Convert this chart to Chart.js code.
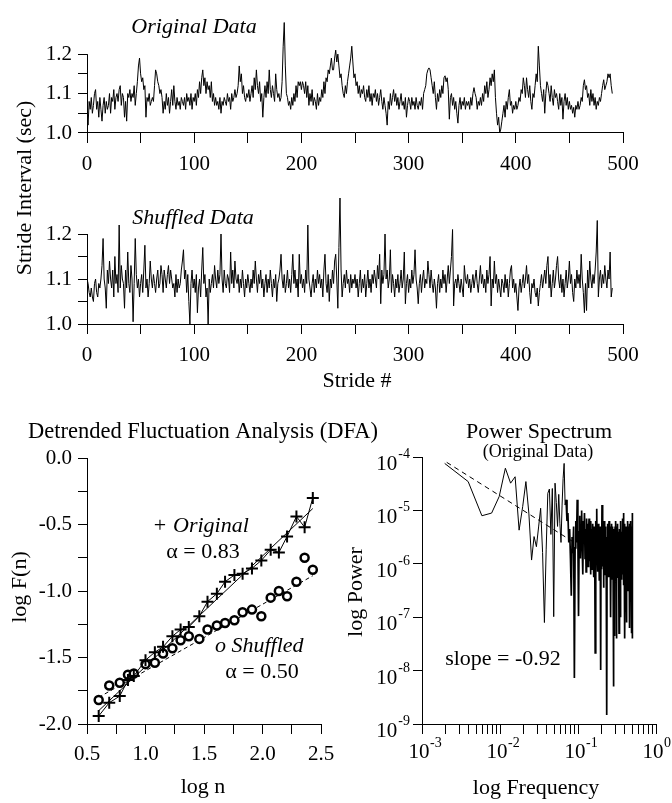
<!DOCTYPE html>
<html>
<head>
<meta charset="utf-8">
<title>Stride interval, DFA and power spectrum</title>
<script src="https://cdn.jsdelivr.net/npm/chart.js@4.4.1/dist/chart.umd.min.js"></script>
<style>
  html, body { margin: 0; padding: 0; background: #fff; }
  #wrap { position: relative; width: 672px; height: 803px; }
  #wrap canvas { position: absolute; left: 0; top: 0; }
</style>
</head>
<body>
<div id="wrap">
  <canvas id="original" width="672" height="803"></canvas>
  <canvas id="shuffled" width="672" height="803"></canvas>
  <canvas id="dfa" width="672" height="803"></canvas>
  <canvas id="spectrum" width="672" height="803"></canvas>
</div>
<script>
// stride intervals (sec), stride # = index
const originalData = [
  1.05,1.02,1.08,1.06,1.09,1.05,1.07,1.10,1.11,1.06,
  1.08,1.04,1.09,1.06,1.03,1.07,1.09,1.05,1.08,1.06,
  1.07,1.10,1.05,1.09,1.08,1.11,1.06,1.09,1.10,1.08,
  1.11,1.12,1.07,1.10,1.09,1.04,1.08,1.03,1.10,1.09,
  1.11,1.08,1.10,1.09,1.12,1.07,1.10,1.13,1.17,1.19,
  1.15,1.13,1.14,1.11,1.12,1.04,1.09,1.08,1.10,1.07,
  1.08,1.09,1.08,1.12,1.16,1.15,1.13,1.12,1.10,1.11,
  1.09,1.05,1.08,1.06,1.10,1.07,1.09,1.05,1.08,1.11,
  1.07,1.12,1.08,1.06,1.09,1.07,1.08,1.06,1.09,1.08,
  1.07,1.09,1.06,1.10,1.08,1.09,1.07,1.10,1.06,1.09,
  1.08,1.10,1.07,1.11,1.09,1.13,1.10,1.14,1.16,1.12,
  1.14,1.10,1.13,1.11,1.12,1.09,1.13,1.08,1.10,1.07,
  1.09,1.07,1.08,1.06,1.09,1.05,1.08,1.07,1.09,1.08,
  1.07,1.10,1.08,1.09,1.06,1.10,1.08,1.09,1.11,1.09,
  1.10,1.12,1.17,1.13,1.15,1.10,1.12,1.09,1.08,1.10,
  1.09,1.11,1.08,1.10,1.12,1.09,1.14,1.11,1.16,1.12,
  1.10,1.13,1.08,1.10,1.04,1.09,1.12,1.09,1.13,1.10,
  1.16,1.11,1.09,1.12,1.10,1.08,1.15,1.11,1.09,1.10,
  1.08,1.09,1.13,1.22,1.28,1.17,1.10,1.09,1.07,1.08,
  1.06,1.09,1.07,1.10,1.08,1.12,1.09,1.13,1.12,1.13,
  1.11,1.13,1.12,1.10,1.13,1.09,1.12,1.07,1.10,1.08,
  1.11,1.07,1.09,1.08,1.06,1.10,1.07,1.09,1.08,1.11,
  1.09,1.13,1.10,1.14,1.13,1.16,1.15,1.17,1.19,1.16,
  1.16,1.19,1.21,1.18,1.20,1.17,1.14,1.15,1.12,1.10,
  1.09,1.12,1.10,1.13,1.15,1.17,1.19,1.22,1.18,1.14,
  1.15,1.12,1.13,1.10,1.12,1.09,1.11,1.10,1.12,1.09,
  1.08,1.11,1.09,1.12,1.08,1.10,1.07,1.10,1.09,1.11,
  1.08,1.10,1.07,1.09,1.11,1.08,1.06,1.09,1.07,1.05,
  1.02,1.08,1.06,1.10,1.07,1.09,1.11,1.08,1.10,1.07,
  1.09,1.06,1.08,1.10,1.07,1.08,1.06,1.09,1.04,1.07,
  1.09,1.08,1.06,1.09,1.07,1.08,1.06,1.09,1.07,1.06,
  1.08,1.07,1.09,1.06,1.10,1.11,1.12,1.15,1.16,1.165,
  1.16,1.14,1.12,1.10,1.13,1.09,1.06,1.10,1.08,1.11,
  1.09,1.12,1.10,1.14,1.145,1.13,1.14,1.11,1.035,1.09,
  1.10,1.07,1.09,1.06,1.08,1.05,1.025,1.07,1.09,1.06,
  1.08,1.07,1.09,1.06,1.08,1.07,1.08,1.06,1.09,1.07,
  1.10,1.115,1.10,1.09,1.06,1.08,1.07,1.09,1.07,1.10,
  1.08,1.12,1.10,1.13,1.09,1.11,1.14,1.12,1.15,1.13,
  1.16,1.09,1.05,1.02,1.04,1.00,1.01,1.03,1.05,1.07,
  1.04,1.08,1.06,1.09,1.11,1.07,1.08,1.05,1.07,1.06,
  1.08,1.06,1.07,1.09,1.08,1.11,1.10,1.14,1.12,1.09,
  1.14,1.11,1.09,1.12,1.08,1.06,1.10,1.09,1.12,1.15,
  1.13,1.22,1.17,1.12,1.10,1.08,1.11,1.05,1.10,1.13,
  1.12,1.10,1.08,1.12,1.09,1.07,1.11,1.09,1.10,1.08,
  1.06,1.10,1.07,1.09,1.035,1.08,1.10,1.07,1.09,1.06,
  1.08,1.06,1.07,1.05,1.065,1.04,1.07,1.06,1.08,1.06,
  1.07,1.09,1.08,1.12,1.135,1.11,1.12,1.09,1.10,1.07,
  1.11,1.08,1.10,1.07,1.09,1.06,1.08,1.07,1.09,1.08,
  1.10,1.12,1.135,1.11,1.12,1.13,1.15,1.14,1.15,1.12,
  1.10
];

const shuffledData = [
  1.10,1.09,1.07,1.06,1.08,1.06,1.05,1.09,1.10,1.07,
  1.06,1.09,1.08,1.10,1.13,1.19,1.10,1.08,1.035,1.12,
  1.09,1.14,1.10,1.08,1.12,1.06,1.15,1.09,1.11,1.07,
  1.22,1.08,1.13,1.10,1.09,1.035,1.12,1.08,1.16,1.09,
  1.07,1.13,1.10,1.005,1.09,1.19,1.11,1.08,1.10,1.06,
  1.09,1.11,1.07,1.12,1.175,1.08,1.10,1.06,1.09,1.14,
  1.10,1.08,1.11,1.09,1.07,1.10,1.12,1.08,1.09,1.13,
  1.11,1.07,1.12,1.10,1.08,1.11,1.13,1.09,1.12,1.10,
  1.08,1.09,1.06,1.11,1.07,1.10,1.08,1.09,1.12,1.14,
  1.165,1.10,1.12,1.07,1.11,1.05,1.00,1.09,1.12,1.08,
  1.10,1.07,1.11,1.025,1.08,1.10,1.06,1.12,1.17,1.09,
  1.11,1.06,1.08,1.00,1.10,1.07,1.09,1.11,1.08,1.13,
  1.10,1.08,1.12,1.09,1.11,1.20,1.10,1.07,1.12,1.09,
  1.08,1.11,1.10,1.07,1.16,1.09,1.12,1.08,1.14,1.10,
  1.09,1.11,1.07,1.10,1.08,1.12,1.09,1.06,1.10,1.08,
  1.11,1.09,1.07,1.10,1.08,1.12,1.09,1.14,1.10,1.07,
  1.11,1.09,1.12,1.08,1.10,1.06,1.09,1.11,1.07,1.10,
  1.08,1.12,1.09,1.06,1.10,1.08,1.11,1.05,1.09,1.10,
  1.12,1.155,1.10,1.08,1.11,1.07,1.09,1.12,1.08,1.10,
  1.07,1.11,1.155,1.09,1.12,1.08,1.10,1.06,1.155,1.09,
  1.11,1.08,1.10,1.07,1.12,1.09,1.22,1.10,1.08,1.06,
  1.09,1.11,1.07,1.10,1.08,1.12,1.09,1.11,1.08,1.10,
  1.06,1.12,1.155,1.09,1.07,1.11,1.05,1.10,1.08,1.12,
  1.09,1.14,1.155,1.10,1.035,1.17,1.28,1.12,1.06,1.09,
  1.11,1.08,1.12,1.09,1.10,1.07,1.11,1.08,1.10,1.09,
  1.11,1.08,1.10,1.06,1.09,1.12,1.07,1.10,1.08,1.11,
  1.06,1.09,1.12,1.08,1.10,1.07,1.11,1.09,1.12,1.10,
  1.08,1.13,1.10,1.155,1.045,1.12,1.09,1.11,1.20,1.10,
  1.12,1.08,1.10,1.165,1.07,1.11,1.09,1.06,1.10,1.08,
  1.11,1.07,1.09,1.12,1.08,1.10,1.16,1.045,1.09,1.11,
  1.07,1.10,1.08,1.12,1.09,1.11,1.165,1.10,1.08,1.045,
  1.09,1.11,1.07,1.10,1.12,1.08,1.10,1.09,1.14,1.11,
  1.08,1.12,1.09,1.07,1.10,1.08,1.035,1.09,1.11,1.07,
  1.10,1.08,1.12,1.09,1.11,1.07,1.10,1.13,1.09,1.12,
  1.15,1.21,1.04,1.09,1.10,1.08,1.11,1.09,1.07,1.10,
  1.08,1.06,1.13,1.10,1.09,1.11,1.08,1.10,1.07,1.09,
  1.11,1.08,1.10,1.12,1.09,1.07,1.10,1.13,1.09,1.11,
  1.08,1.10,1.07,1.12,1.09,1.11,1.15,1.04,1.10,1.08,
  1.14,1.09,1.11,1.07,1.10,1.08,1.06,1.10,1.09,1.07,
  1.11,1.08,1.10,1.06,1.09,1.12,1.13,1.08,1.10,1.07,
  1.09,1.06,1.03,1.08,1.10,1.07,1.09,1.11,1.08,1.10,
  1.13,1.09,1.11,1.07,1.045,1.09,1.08,1.10,1.07,1.06,
  1.08,1.04,1.07,1.09,1.11,1.08,1.10,1.12,1.09,1.13,
  1.15,1.08,1.11,1.06,1.09,1.12,1.08,1.10,1.13,1.15,
  1.10,1.08,1.11,1.07,1.10,1.06,1.09,1.12,1.08,1.10,
  1.14,1.09,1.11,1.07,1.05,1.10,1.08,1.12,1.09,1.11,
  1.08,1.155,1.10,1.07,1.025,1.09,1.03,1.12,1.08,1.14,
  1.10,1.08,1.11,1.09,1.12,1.16,1.23,1.06,1.10,1.12,
  1.08,1.11,1.09,1.13,1.10,1.08,1.12,1.10,1.16,1.06,
  1.08
];

// DFA: log n vs log F(n)
const dfaLogN = [0.60,0.69,0.78,0.85,0.90,1.00,1.08,1.15,1.23,1.30,1.37,1.46,1.53,
                 1.61,1.68,1.76,1.83,1.91,1.99,2.07,2.14,2.21,2.29,2.36,2.43];
const dfaOriginal = [-1.94,-1.84,-1.79,-1.67,-1.64,-1.52,-1.46,-1.42,-1.34,-1.29,-1.27,-1.19,-1.08,
                     -1.02,-0.93,-0.88,-0.87,-0.83,-0.77,-0.69,-0.71,-0.59,-0.44,-0.52,-0.30];
const dfaShuffled = [-1.82,-1.71,-1.69,-1.63,-1.62,-1.55,-1.54,-1.47,-1.43,-1.37,-1.34,-1.36,-1.29,
                     -1.26,-1.24,-1.22,-1.16,-1.14,-1.19,-1.05,-1.00,-1.04,-0.93,-0.75,-0.84];
const dfaFitX = [0.60, 2.43];
const dfaOriginalFit = [-1.90, -0.38];   // alpha = 0.83
const dfaShuffledFit = [-1.80, -0.885];  // alpha = 0.50

// power spectrum, log10 power at bins k = 1..256 of a 512 point FFT
const psLogPower = [
  -4.12,-4.46,-5.10,-5.05,-4.74,-4.21,-4.49,-4.37,-5.37,-4.93,
  -4.46,-5.05,-5.93,-5.49,-5.68,-5.31,-4.96,-5.79,-7.10,-5.74,
  -4.68,-4.60,-5.45,-4.59,-6.99,-4.49,-4.85,-5.30,-4.70,-5.25,
  -5.60,-4.90,-4.40,-4.12,-4.90,-4.80,-5.20,-5.05,-5.60,-5.35,
  -5.90,-6.60,-5.50,-5.80,-5.30,-8.14,-5.70,-5.20,-5.60,-4.80,
  -5.50,-6.98,-5.40,-5.10,-5.90,-5.30,-5.00,-5.70,-6.20,-5.20,
  -5.45,-5.05,-5.90,-5.35,-6.15,-5.15,-5.70,-5.25,-6.05,-5.40,
  -5.15,-5.95,-5.30,-6.20,-5.20,-5.75,-5.35,-6.10,-5.25,-5.85,
  -5.45,-6.25,-5.30,-5.90,-7.67,-5.55,-5.20,-6.00,-4.97,-5.75,
  -5.40,-6.15,-5.25,-5.85,-5.50,-6.30,-5.30,-5.95,-6.20,-7.99,
  -5.55,-5.30,-6.10,-4.90,-5.70,-5.45,-6.05,-5.35,-6.45,-5.50,
  -5.20,-6.00,-5.60,-6.20,-5.30,-5.90,-5.45,-6.35,-5.60,-8.83,
  -5.50,-5.25,-6.10,-5.70,-5.35,-6.25,-5.55,-5.20,-6.00,-5.45,
  -6.20,-5.30,-5.80,-5.50,-7.00,-5.60,-5.25,-6.05,-5.40,-5.95,
  -5.30,-6.30,-5.50,-5.70,-8.30,-5.60,-5.35,-6.15,-5.45,-7.35,
  -5.50,-5.85,-5.30,-6.20,-5.55,-5.20,-6.00,-5.45,-6.35,-7.40,
  -5.60,-5.30,-6.10,-5.50,-5.85,-5.25,-6.25,-5.60,-5.40,-6.15,
  -5.50,-7.30,-5.35,-5.90,-5.60,-6.20,-5.40,-5.75,-5.30,-7.00,
  -5.55,-5.20,-6.10,-5.45,-6.30,-5.40,-5.90,-5.60,-6.20,-5.30,
  -5.70,-5.15,-6.15,-5.50,-5.05,-6.40,-5.60,-5.35,-6.00,-5.45,
  -6.25,-5.55,-5.25,-6.10,-7.40,-5.50,-5.80,-5.30,-6.20,-5.60,
  -5.40,-6.00,-5.50,-6.40,-7.10,-5.60,-5.30,-5.90,-5.45,-6.25,
  -5.55,-5.20,-6.10,-5.50,-6.50,-5.60,-5.35,-6.15,-5.45,-5.95,
  -5.30,-6.30,-5.60,-7.20,-5.40,-5.80,-5.25,-6.20,-5.55,-5.70,
  -6.60,-5.40,-5.95,-5.20,-6.25,-5.60,-5.35,-7.30,-5.50,-6.10,
  -5.45,-6.40,-5.30,-7.40,-5.05,-6.20
];
const psFitLogF = [-2.683, -1.06];
const psFitLogP = [-4.10, -5.59];   // slope = -0.92

// ticks
const strideTicks = [0, 50, 100, 150, 200, 250, 300, 350, 400, 450, 500];
const strideLabels = ['0', '', '100', '', '200', '', '300', '', '400', '', '500'];
const intervalTicks = [1.0, 1.05, 1.1, 1.15, 1.2];
const intervalLabels = ['1.0', '', '1.1', '', '1.2'];
const dfaXTicks = [0.5, 0.75, 1.0, 1.25, 1.5, 1.75, 2.0, 2.25, 2.5];
const dfaXLabels = ['0.5', '', '1.0', '', '1.5', '', '2.0', '', '2.5'];
const dfaYTicks = [-2.0, -1.75, -1.5, -1.25, -1.0, -0.75, -0.5, -0.25, 0.0];
const dfaYLabels = ['-2.0', '', '-1.5', '', '-1.0', '', '-0.5', '', '0.0'];
const psXTicks = [0.001,0.002,0.003,0.004,0.005,0.006,0.007,0.008,0.009,
                  0.01,0.02,0.03,0.04,0.05,0.06,0.07,0.08,0.09,
                  0.1,0.2,0.3,0.4,0.5,0.6,0.7,0.8,0.9,1];
const psXDecades = [0.001, 0.01, 0.1, 1];
const psXExp = ['-3', '-2', '-1', '0'];
const psYTicks = [1e-9, 1e-8, 1e-7, 1e-6, 1e-5, 1e-4];
const psYExp = ['-9', '-8', '-7', '-6', '-5', '-4'];

const SERIF = '"Liberation Serif", "Times New Roman", serif';
Chart.defaults.font.family = SERIF;
Chart.defaults.font.size = 21;
Chart.defaults.color = '#000';

// free text: titles, axis names, notes
const notesPlugin = {
  id: 'notes',
  afterDraw(chart, args, opts) {
    const ctx = chart.ctx;
    (opts.items || []).forEach(it => {
      ctx.save();
      ctx.fillStyle = '#000';
      ctx.font = it.font || ('22px ' + SERIF);
      ctx.textAlign = it.align || 'center';
      ctx.textBaseline = 'middle';
      ctx.translate(it.x, it.y);
      if (it.rot) ctx.rotate(it.rot);
      ctx.fillText(it.text, 0, 0);
      ctx.restore();
    });
  }
};

// y axis line only between 1.0 and 1.2
const yStubPlugin = {
  id: 'yStub',
  afterDraw(chart, args, opts) {
    if (opts.from === undefined) return;
    const ctx = chart.ctx, ys = chart.scales.y;
    const x = Math.round(chart.chartArea.left) + 0.5;
    ctx.save();
    ctx.strokeStyle = '#000';
    ctx.lineWidth = 1;
    ctx.beginPath();
    ctx.moveTo(x, ys.getPixelForValue(opts.from) + 0.5);
    ctx.lineTo(x, ys.getPixelForValue(opts.to));
    ctx.stroke();
    ctx.restore();
  }
};

// 10^n labels for the log axes
const powerLabelsPlugin = {
  id: 'powerLabels',
  afterDraw(chart) {
    const ctx = chart.ctx, xs = chart.scales.x, ys = chart.scales.y;
    ctx.save();
    ctx.fillStyle = '#000';
    ctx.textBaseline = 'alphabetic';
    psYTicks.forEach((v, i) => {
      const py = ys.getPixelForValue(v);
      ctx.font = '14px ' + SERIF;
      ctx.textAlign = 'right';
      const w = ctx.measureText(psYExp[i]).width;
      ctx.fillText(psYExp[i], 410, py + 1);
      ctx.font = '21px ' + SERIF;
      ctx.fillText('10', 409 - w, py + 13);
    });
    psXDecades.forEach((v, i) => {
      const px = xs.getPixelForValue(v);
      ctx.font = '21px ' + SERIF;
      ctx.textAlign = 'center';
      ctx.fillText('10', px - 3, 758);
      ctx.font = '14px ' + SERIF;
      ctx.textAlign = 'left';
      ctx.fillText(psXExp[i], px + 8, 747);
    });
    ctx.restore();
  }
};

function seriesChart(id, values, areaTop, areaBottom, notes) {
  return new Chart(document.getElementById(id), {
    type: 'line',
    data: {
      datasets: [{
        data: values.map((v, i) => ({ x: i, y: v })),
        borderColor: '#000',
        borderWidth: 1,
        pointRadius: 0,
        tension: 0
      }]
    },
    options: {
      responsive: false,
      animation: false,
      events: [],
      layout: { padding: { left: 0, right: 672 - 623, top: areaTop, bottom: 803 - areaBottom - 40 } },
      plugins: {
        legend: { display: false },
        tooltip: { enabled: false },
        notes: { items: notes },
        yStub: { from: 1.0, to: 1.2 }
      },
      scales: {
        x: {
          type: 'linear', min: 0, max: 500,
          afterBuildTicks: s => { s.ticks = strideTicks.map(v => ({ value: v })); },
          afterFit: s => { s.height = 40; },
          ticks: { callback: (v, i) => strideLabels[i], autoSkip: false, maxRotation: 0, padding: 9 },
          grid: { drawOnChartArea: false, tickLength: 10, color: '#000' },
          border: { color: '#000' }
        },
        y: {
          min: 1.0, max: 1.29,
          afterBuildTicks: s => { s.ticks = intervalTicks.map(v => ({ value: v })); },
          afterFit: s => { s.width = 87; },
          ticks: { callback: (v, i) => intervalLabels[i], autoSkip: false, padding: 6 },
          grid: { drawOnChartArea: false, tickLength: 9, color: '#000' },
          border: { display: false }
        }
      }
    },
    plugins: [notesPlugin, yStubPlugin]
  });
}

seriesChart('original', originalData, 2.5, 133, [
  { text: 'Original Data', x: 194, y: 27, font: 'italic 22px ' + SERIF },
  { text: 'Stride Interval (sec)', x: 25, y: 188, rot: -Math.PI / 2 }
]);

seriesChart('shuffled', shuffledData, 193.5, 324, [
  { text: 'Shuffled Data', x: 193, y: 218, font: 'italic 22px ' + SERIF },
  { text: 'Stride #', x: 357, y: 381 }
]);

new Chart(document.getElementById('dfa'), {
  type: 'scatter',
  data: {
    datasets: [
      {
        data: dfaLogN.map((x, i) => ({ x: x, y: dfaOriginal[i] })),
        showLine: true,
        borderColor: '#000',
        borderWidth: 1,
        pointStyle: 'cross',
        pointRadius: 6,
        pointBorderWidth: 2,
        pointBorderColor: '#000'
      },
      {
        data: dfaLogN.map((x, i) => ({ x: x, y: dfaShuffled[i] })),
        showLine: false,
        pointStyle: 'circle',
        pointRadius: 4,
        pointBorderWidth: 2.5,
        pointBorderColor: '#000',
        pointBackgroundColor: '#fff'
      },
      {
        data: dfaFitX.map((x, i) => ({ x: x, y: dfaOriginalFit[i] })),
        showLine: true,
        borderColor: '#000',
        borderWidth: 1,
        pointRadius: 0
      },
      {
        data: dfaFitX.map((x, i) => ({ x: x, y: dfaShuffledFit[i] })),
        showLine: true,
        borderColor: '#000',
        borderWidth: 1,
        borderDash: [4, 3],
        pointRadius: 0
      }
    ]
  },
  options: {
    responsive: false,
    animation: false,
    events: [],
    layout: { padding: { left: 0, right: 672 - 321, top: 458, bottom: 803 - 724 - 40 } },
    plugins: {
      legend: { display: false },
      tooltip: { enabled: false },
      notes: {
        items: [
          { text: 'Detrended Fluctuation Analysis (DFA)', x: 203, y: 432, font: '22.5px ' + SERIF },
          { text: 'log F(n)', x: 20, y: 587, rot: -Math.PI / 2 },
          { text: 'log n', x: 203, y: 787 },
          { text: '+', x: 160, y: 526 },
          { text: 'Original', x: 173, y: 526, align: 'left', font: 'italic 22px ' + SERIF },
          { text: 'α = 0.83', x: 203, y: 552 },
          { text: 'o Shuffled', x: 215, y: 646, align: 'left', font: 'italic 22px ' + SERIF },
          { text: 'α = 0.50', x: 262, y: 672 }
        ]
      }
    },
    scales: {
      x: {
        type: 'linear', min: 0.5, max: 2.5,
        afterBuildTicks: s => { s.ticks = dfaXTicks.map(v => ({ value: v })); },
        afterFit: s => { s.height = 40; },
        ticks: { callback: (v, i) => dfaXLabels[i], autoSkip: false, maxRotation: 0, padding: 8 },
        grid: { drawOnChartArea: false, tickLength: 10, color: '#000' },
        border: { color: '#000' }
      },
      y: {
        type: 'linear', min: -2, max: 0,
        afterBuildTicks: s => { s.ticks = dfaYTicks.map(v => ({ value: v })); },
        afterFit: s => { s.width = 87; },
        ticks: { callback: (v, i) => dfaYLabels[i], autoSkip: false, padding: 6 },
        grid: { drawOnChartArea: false, tickLength: 9, color: '#000' },
        border: { color: '#000' }
      }
    }
  },
  plugins: [notesPlugin]
});

new Chart(document.getElementById('spectrum'), {
  type: 'line',
  data: {
    datasets: [
      {
        data: psLogPower.map((p, i) => ({ x: (i + 1) / 512, y: Math.pow(10, p) })),
        borderColor: '#000',
        borderWidth: 1,
        // the dense high-frequency part reads as a solid band in the original
        segment: { borderWidth: c => (c.p0.parsed.x > 0.07 ? 1.7 : 1) },
        pointRadius: 0,
        tension: 0
      },
      {
        data: psFitLogF.map((f, i) => ({ x: Math.pow(10, f), y: Math.pow(10, psFitLogP[i]) })),
        borderColor: '#000',
        borderWidth: 1,
        borderDash: [5, 4],
        pointRadius: 0
      }
    ]
  },
  options: {
    responsive: false,
    animation: false,
    events: [],
    layout: { padding: { left: 340, right: 672 - 656, top: 457, bottom: 803 - 724 - 40 } },
    plugins: {
      legend: { display: false },
      tooltip: { enabled: false },
      notes: {
        items: [
          { text: 'Power Spectrum', x: 539, y: 432 },
          { text: '(Original Data)', x: 538, y: 452, font: '18px ' + SERIF },
          { text: 'log Power', x: 356, y: 592, rot: -Math.PI / 2 },
          { text: 'log Frequency', x: 536, y: 788 },
          { text: 'slope = -0.92', x: 503, y: 659 }
        ]
      }
    },
    scales: {
      x: {
        type: 'logarithmic', min: 0.001, max: 1,
        afterBuildTicks: s => { s.ticks = psXTicks.map(v => ({ value: v })); },
        afterFit: s => { s.height = 40; },
        ticks: { callback: () => '', autoSkip: false, maxRotation: 0 },
        grid: { drawOnChartArea: false, tickLength: 10, color: '#000' },
        border: { color: '#000' }
      },
      y: {
        type: 'logarithmic', min: 1e-9, max: 1e-4,
        afterBuildTicks: s => { s.ticks = psYTicks.map(v => ({ value: v })); },
        afterFit: s => { s.width = 82; },
        ticks: { callback: () => '', autoSkip: false },
        grid: { drawOnChartArea: false, tickLength: 9, color: '#000' },
        border: { color: '#000' }
      }
    }
  },
  plugins: [notesPlugin, powerLabelsPlugin]
});
</script>
</body>
</html>
